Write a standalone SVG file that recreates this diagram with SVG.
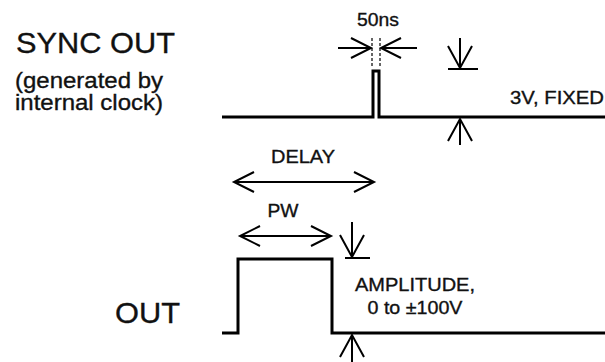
<svg xmlns="http://www.w3.org/2000/svg" width="605" height="362" viewBox="0 0 605 362">
<style>
text{font-family:"Liberation Sans",Arial,sans-serif;fill:#111;stroke:#111;stroke-width:0.35}
.big{font-size:30px}
.mid{font-size:22px}
.sm{font-size:19px}
.sig{fill:none;stroke:#000;stroke-width:3;stroke-linejoin:miter}
.dim{fill:none;stroke:#000;stroke-width:2}
.ext{fill:none;stroke:#333;stroke-width:1.5;stroke-dasharray:3 2}
</style>
<defs>
<marker id="ah" markerUnits="userSpaceOnUse" viewBox="-24 -14 28 28" refX="0" refY="0" markerWidth="28" markerHeight="28" orient="auto-start-reverse" overflow="visible">
<path d="M-20,-10 L0,0 L-20,10" fill="none" stroke="#000" stroke-width="2"/>
</marker>
<marker id="av" markerUnits="userSpaceOnUse" viewBox="-26 -14 30 28" refX="0" refY="0" markerWidth="30" markerHeight="28" orient="auto" overflow="visible">
<path d="M-22,-12 L0,0 L-22,12" fill="none" stroke="#000" stroke-width="2"/>
</marker>
</defs>

<g id="labels">
<text class="big" x="16" y="53" textLength="159" lengthAdjust="spacingAndGlyphs">SYNC OUT</text>
<text class="mid" x="15" y="88" textLength="148" lengthAdjust="spacingAndGlyphs">(generated by</text>
<text class="mid" x="15" y="110" textLength="148" lengthAdjust="spacingAndGlyphs">internal clock)</text>
<text class="big" x="115" y="323" textLength="65" lengthAdjust="spacingAndGlyphs">OUT</text>
</g>

<g id="sync-signal">
<path class="sig" d="M222,117 H373 V71 H379 V117 H605"/>
</g>

<g id="out-signal">
<path class="sig" d="M222,333 H238 V259 H332 V333 H605"/>
</g>

<g id="connectors">
<path class="ext" d="M372,38 V68"/>
<path class="ext" d="M380,38 V68"/>
<path class="dim" d="M338,48 H371" marker-end="url(#ah)"/>
<path class="dim" d="M417,48 H381" marker-end="url(#ah)"/>
<path class="dim" d="M460,38 V68" marker-end="url(#av)"/>
<path class="dim" d="M448,69 H478"/>
<path class="dim" d="M460,145 V119" marker-end="url(#av)"/>
<path class="dim" d="M234,182 H374" marker-start="url(#ah)" marker-end="url(#ah)"/>
<path class="dim" d="M240,236 H331" marker-start="url(#ah)" marker-end="url(#ah)"/>
<path class="dim" d="M352,222 V257" marker-end="url(#av)"/>
<path class="dim" d="M345,258 H370"/>
<path class="dim" d="M352,362 V335" marker-end="url(#av)"/>
</g>

<g id="dim-labels">
<text class="sm" x="378" y="26" text-anchor="middle" textLength="42" lengthAdjust="spacingAndGlyphs">50ns</text>
<text class="sm" x="510" y="104" textLength="94" lengthAdjust="spacingAndGlyphs">3V, FIXED</text>
<text class="sm" x="303" y="163" text-anchor="middle" textLength="64" lengthAdjust="spacingAndGlyphs">DELAY</text>
<text class="sm" x="283" y="217" text-anchor="middle" textLength="31" lengthAdjust="spacingAndGlyphs">PW</text>
<text class="sm" x="415" y="291" text-anchor="middle" textLength="120" lengthAdjust="spacingAndGlyphs">AMPLITUDE,</text>
<text class="sm" x="415" y="314" text-anchor="middle" textLength="95" lengthAdjust="spacingAndGlyphs">0 to ±100V</text>
</g>
</svg>
